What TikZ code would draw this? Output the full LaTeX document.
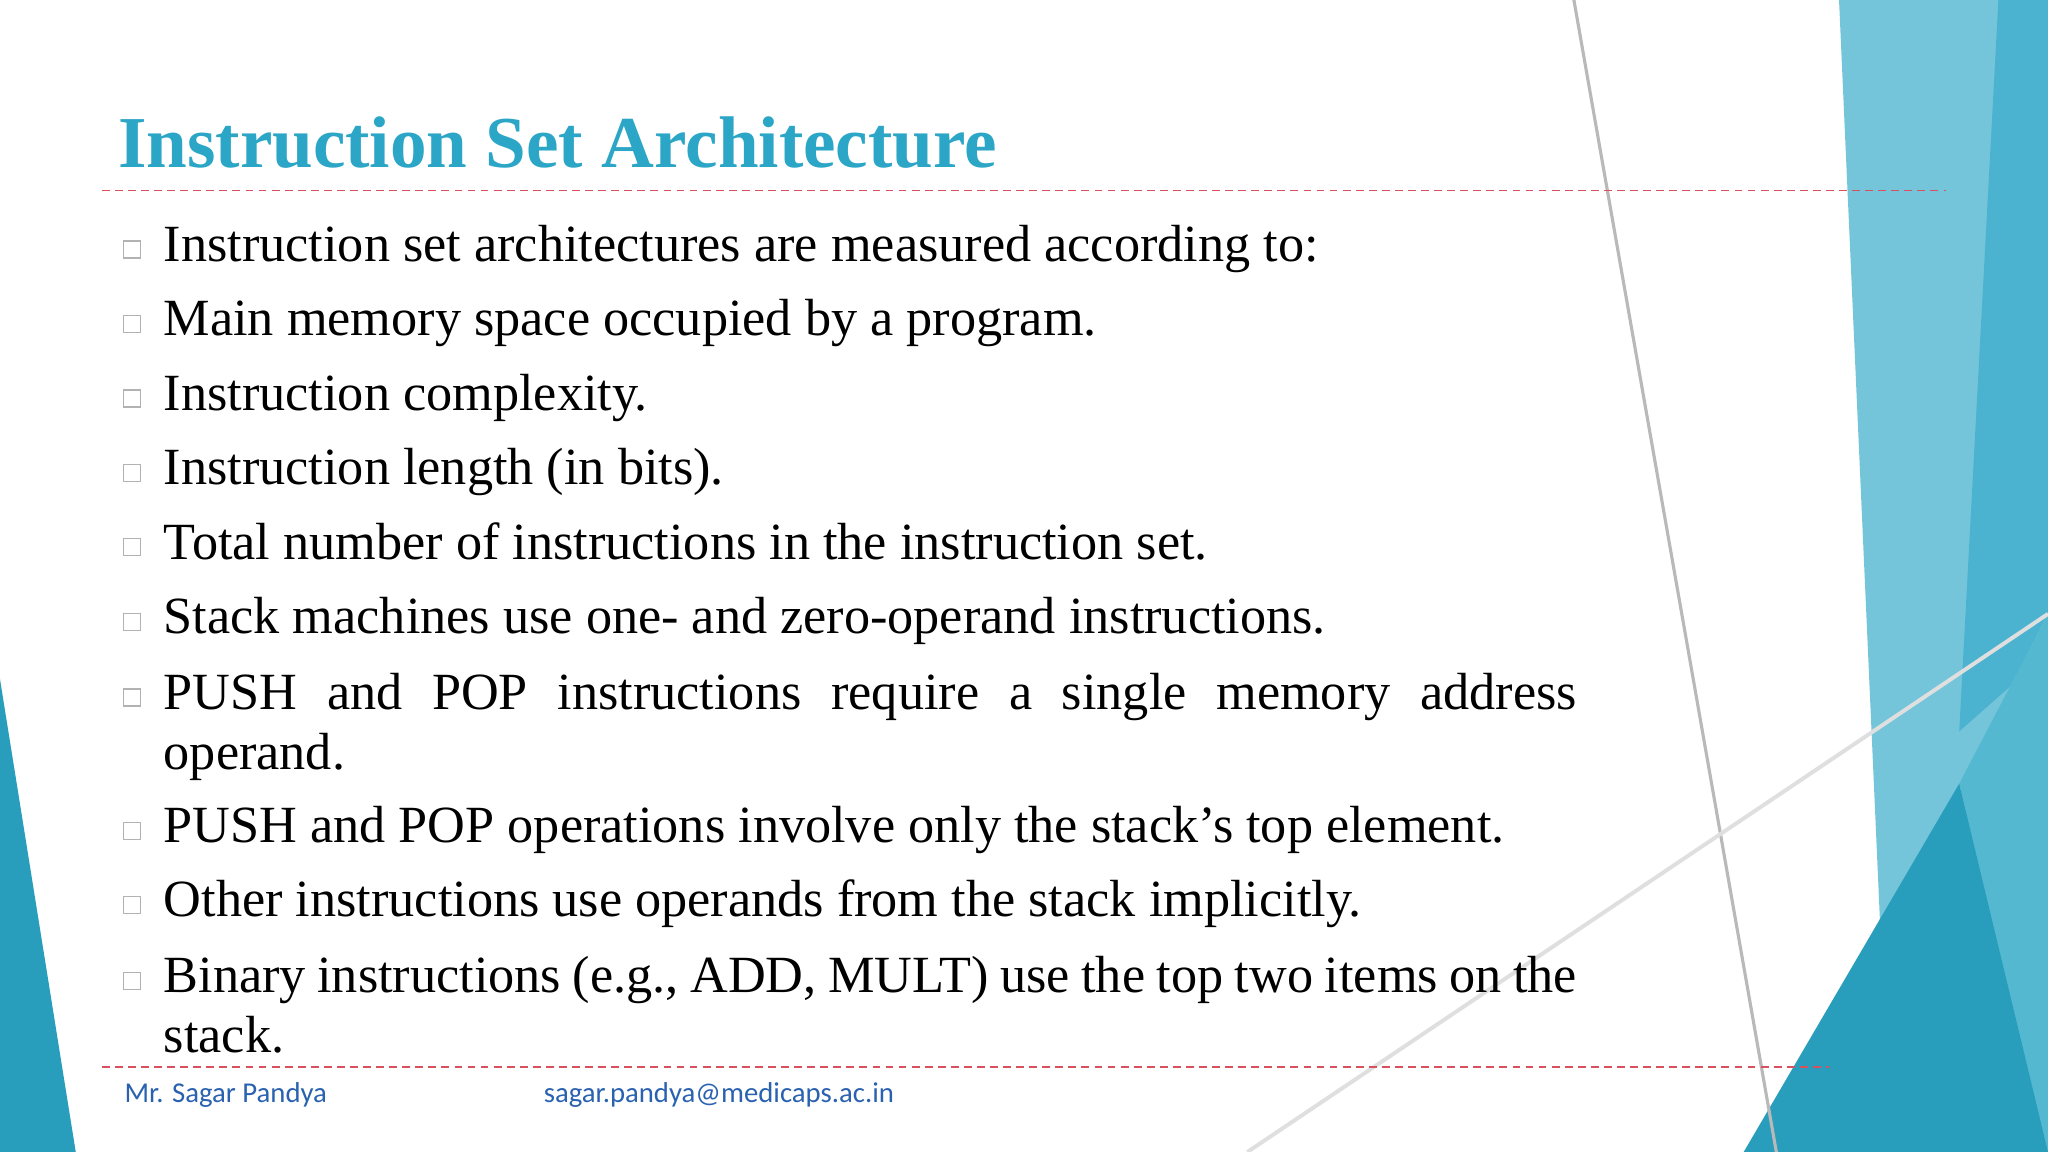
\documentclass[tikz,border=0pt]{standalone}
\usepackage{fontspec}
\setmainfont{Liberation Serif}
\newfontfamily\footfont{Carlito}
\definecolor{ttl}{HTML}{2BA6C6}
\definecolor{foot}{HTML}{2A62B0}
\definecolor{dred}{HTML}{D9505F}
\begin{document}
\begin{tikzpicture}[x=0.5pt,y=-0.5pt,
  bul/.style={draw=gray!60,line width=0.5pt,minimum size=6.5pt,inner sep=0pt},
  item/.style={anchor=base west,inner sep=0pt,font=\fontsize{20}{23}\selectfont},
  wide/.style={item,text width=541pt,align=justify},
  sep/.style={dred,dashed,line width=0.5pt,dash pattern=on 3pt off 2pt}]
\useasboundingbox (0,0) rectangle (1568,882);
\fill[white] (0,0) rectangle (1568,882);
% decorations
\fill[ttl!65] (1408,0) -- (1568,0) -- (1568,882) -- (1440,720) -- cycle;
\fill[ttl!85] (1530,0) -- (1568,0) -- (1568,500) -- (1500,560) -- cycle;
\fill[ttl!40] (1440,720) -- (1568,470) -- (1500,610) -- cycle;
\fill[ttl!80] (1500,600) -- (1568,470) -- (1568,882) -- cycle;
\fill[ttl!95!black] (1335,882) -- (1500,600) -- (1568,882) -- cycle;
\fill[ttl!95!black] (0,520) -- (58,882) -- (0,882) -- cycle;
\draw[gray!55,line width=1.2pt] (1205,0) -- (1360,882);
\draw[gray!25,line width=1.5pt] (955,882) -- (1568,470);
% title
\node[anchor=base west,inner sep=0pt,text=ttl,font=\fontsize{28}{30}\selectfont\bfseries] (title) at (90,128) {Instruction Set Architecture};
\draw[sep] (78,146) -- (1490,146);
\draw[sep] (78,817) -- (1400,817);
% items
\foreach \y/\t [count=\i] in {
 200/{Instruction set architectures are measured according to:},
 257/{Main memory space occupied by a program.},
 314/{Instruction complexity.},
 371/{Instruction length (in bits).},
 428/{Total number of instructions in the instruction set.},
 485/{Stack machines use one- and zero-operand instructions.},
 645/{PUSH and POP operations involve only the stack’s top element.},
 702/{Other instructions use operands from the stack implicitly.}}{
  \node[item] (t\i) at (125,\y) {\t};
  \node[bul] (b\i) at (101,\y-9) {};
}
\node[wide] (t9) at (125,543) {PUSH and POP instructions require a single memory address operand.};
\node[bul] (b9) at (101,534) {};
\node[wide] (t10) at (125,760) {Binary instructions (e.g., ADD, MULT) use the top two items on the stack.};
\node[bul] (b10) at (101,751) {};
% footer
\node[anchor=base west,inner sep=0pt,text=foot,font=\footfont\fontsize{11}{12}\selectfont] (f1) at (95,844) {Mr. Sagar Pandya};
\node[anchor=base west,inner sep=0pt,text=foot,font=\footfont\fontsize{11}{12}\selectfont] (f2) at (416,844) {sagar.pandya@medicaps.ac.in};
\end{tikzpicture}
\end{document}
